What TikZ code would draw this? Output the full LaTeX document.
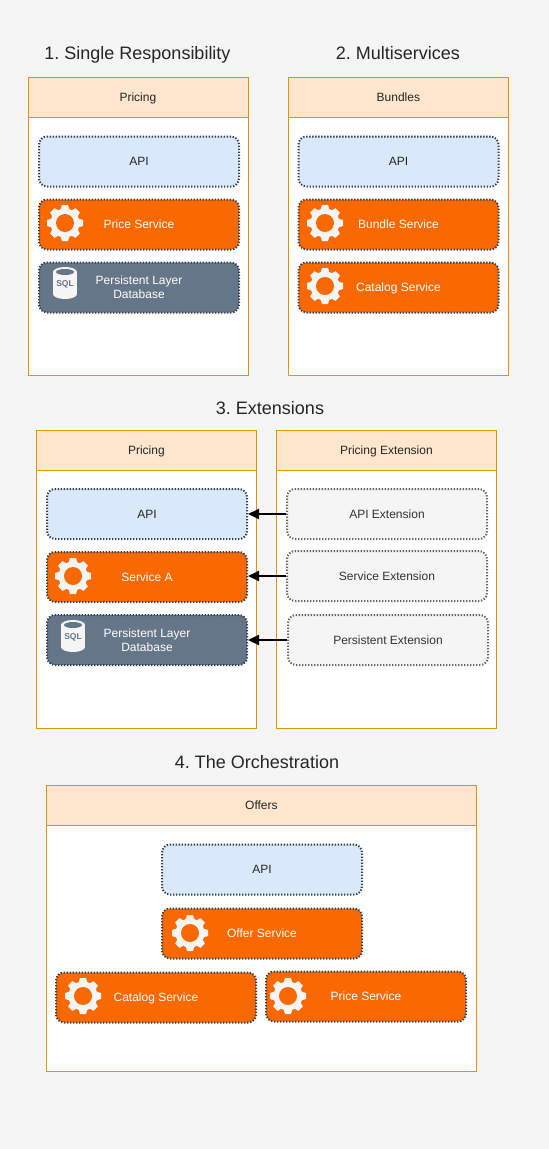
\documentclass[tikz,border=0pt]{standalone}
\usepackage{fontspec}
\setmainfont{Liberation Sans}
\frenchspacing
\usetikzlibrary{arrows.meta}
\definecolor{pagebg}{HTML}{F5F5F5}
\definecolor{headfill}{HTML}{FFE6CC}
\definecolor{headline}{HTML}{D79B00}
\definecolor{apifill}{HTML}{DAE8FC}
\definecolor{boxline}{HTML}{314354}
\definecolor{servfill}{HTML}{FA6800}
\definecolor{dbfill}{HTML}{647687}
\definecolor{extline}{HTML}{666666}
\definecolor{exttext}{HTML}{333333}
\tikzset{
  panel/.style={draw=headline, fill=white, line width=0.8pt, minimum width=#1, minimum height=298pt, inner sep=0pt, anchor=north west},
  panel/.default=220pt,
  panelhead/.style={draw=headline, fill=headfill, line width=0.8pt, minimum width=#1, minimum height=40pt, inner sep=0pt, anchor=north west, text height=11.6pt, text depth=3pt, font=\fontsize{12}{14}\selectfont, text=black!85},
  panelhead/.default=220pt,
  title/.style={font=\fontsize{18}{21}\selectfont, text=black!85, anchor=base},
  unit/.style={rounded corners=8pt, line width=2pt, dash pattern=on 1.3pt off 1.7pt, minimum width=200pt, minimum height=50pt, inner sep=0pt, anchor=north west, align=center, font=\fontsize{12}{14}\selectfont},
  oneline/.style={text height=11pt, text depth=3pt},
  apibox/.style={unit, oneline, draw=boxline, fill=apifill, text=black!85},
  servbox/.style={unit, oneline, draw=boxline, fill=servfill, text=white},
  dbbox/.style={unit, draw=boxline, fill=dbfill, text=white},
  extbox/.style={unit, oneline, draw=extline, fill=pagebg, text=exttext},
  extarrow/.style={-{Triangle[length=11pt,width=10pt]}, line width=2pt, black},
  gearicon/.pic={
    \fill[pagebg]
      \foreach \a in {0,45,...,315} {
        ([rotate=\a]-4.5,13) -- ([rotate=\a]-3,18) -- ([rotate=\a]3,18) -- ([rotate=\a]4.5,13) -- cycle
      };
    \fill[pagebg] (0,0) circle (14.5pt);
    \fill[servfill] (0,0) circle (9pt);
  },
  dbicon/.pic={
    \fill[pagebg] (-12,-11) rectangle (12,11);
    \fill[pagebg] (0,-11) ellipse (12pt and 5pt);
    \fill[pagebg] (0,11) ellipse (12pt and 5pt);
    \fill[dbfill] (0,-11) ellipse (9pt and 3pt);
    \node[text=dbfill, font=\bfseries\fontsize{8.5}{10}\selectfont, inner sep=0pt] at (0,1) {SQL};
  }
}
\begin{document}
\begin{tikzpicture}[x=1pt, y=-1pt]
\useasboundingbox (0,0) rectangle (549,1149);
\fill[pagebg] (0,0) rectangle (549,1149);
% titles
\node[title] (titlea) at (137.5,59) {1. Single Responsibility};
\node[title] (titleb) at (398,59) {2. Multiservices};
\node[title] (titlec) at (270,414) {3. Extensions};
\node[title] (titled) at (257,768) {4. The Orchestration};
% 1. single responsibility
\node[panel] (pricing) at (27.5,76.5) {};
\node[panelhead] (pricinghead) at (27.5,76.5) {Pricing};
\node[apibox] (apia) at (38,135.5) {API};
\node[servbox] (price) at (38,198.5) {Price Service};
\node[dbbox] (dba) at (38,261.5) {Persistent Layer\\Database};
\pic at (65,223) {gearicon};
\pic at (65,283) {dbicon};
% 2. multiservices
\node[panel] (bundles) at (288,76.5) {};
\node[panelhead] (bundleshead) at (288,76.5) {Bundles};
\node[apibox] (apib) at (297.5,135.5) {API};
\node[servbox] (bundle) at (297.5,198.5) {Bundle Service};
\node[servbox] (catalog) at (297.5,261.5) {Catalog Service};
\pic at (325,223) {gearicon};
\pic at (325,286) {gearicon};
% 3. extensions
\node[panel] (pricingc) at (36,429.5) {};
\node[panelhead] (pricingchead) at (36,429.5) {Pricing};
\node[apibox] (apic) at (46,488) {API};
\node[servbox] (servicea) at (46,551) {Service A};
\node[dbbox] (dbc) at (46,614) {Persistent Layer\\Database};
\pic at (73,576) {gearicon};
\pic at (73,636) {dbicon};
\node[panel] (extension) at (276,429.5) {};
\node[panelhead] (extensionhead) at (276,429.5) {Pricing Extension};
\node[extbox] (apiext) at (286,488) {API Extension};
\node[extbox] (serviceext) at (286,550) {Service Extension};
\node[extbox] (persistext) at (287,614) {Persistent Extension};
\draw[extarrow] (apiext) -- (apic);
\draw[extarrow] (serviceext.west) -- (servicea.east |- serviceext.west);
\draw[extarrow] (persistext) -- (dbc);
% 4. the orchestration
\node[panel] (offers) at (46,785) [minimum width=430pt, minimum height=286pt] {};
\node[panelhead=430pt] (offershead) at (46,785) {Offers};
\node[apibox] (apid) at (161,843.5) {API};
\node[servbox] (offer) at (161,907.5) {Offer Service};
\node[servbox] (catalogd) at (55,971.5) {Catalog Service};
\node[servbox] (priced) at (265,970.5) {Price Service};
\pic at (190,933) {gearicon};
\pic at (83,996) {gearicon};
\pic at (288,996) {gearicon};
\end{tikzpicture}
\end{document}
